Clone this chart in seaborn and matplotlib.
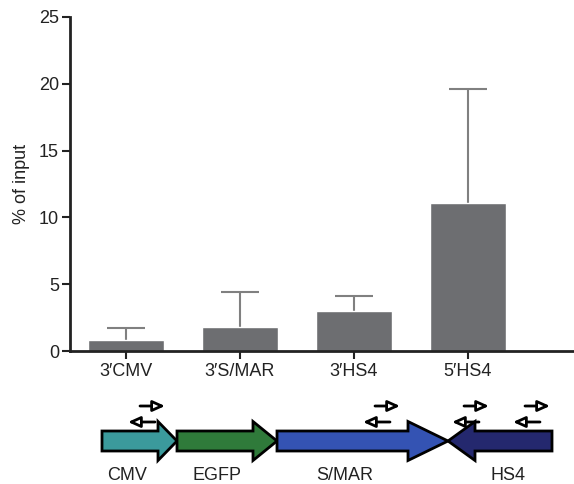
import numpy as np
import pandas as pd
import seaborn as sns
import matplotlib.pyplot as plt
from matplotlib.patches import Polygon

# bar chart data
categories = ["3\u2032CMV", "3\u2032S/MAR", "3\u2032HS4", "5\u2032HS4"]
means = [0.82, 1.8, 3.0, 11.05]
upper_err = [0.9, 2.6, 1.1, 8.55]
yticks = [0, 5, 10, 15, 20, 25]

# construct schematic (pixel spans): name, start, head base, tip, colour
elements = ["CMV", "EGFP", "S/MAR", "HS4"]
elem_start = [102, 177, 277, 552]
elem_head = [158, 253, 408, 475]
elem_tip = [177, 277, 448, 448]
elem_colors = ["#3b9a9c", "#2f7a3a", "#3453b3", "#24286e"]
label_x = [127, 217, 345, 508]
primer_x = [128, 363, 452, 513]

sns.set_theme(style="white")
plt.rcParams["font.family"] = ["Liberation Sans", "DejaVu Sans"]

fig = plt.figure(figsize=(5.74, 4.84), dpi=100)
ax = fig.add_axes([70 / 574, 1 - 351 / 484, 1 - 70 / 574, (351 - 17) / 484])

df = pd.DataFrame({"site": categories, "pct": means})
sns.barplot(data=df, x="site", y="pct", color="#6d6e71", saturation=1,
            width=0.667, errorbar=None, ax=ax, zorder=2)

# upper-only error bars with a single cap
xs = np.arange(len(means))
tops = np.array(means) + np.array(upper_err)
ax.vlines(xs, means, tops, color="#808080", lw=1.5, zorder=1)
ax.plot(xs, tops, ls="none", marker="_", ms=28, mew=1.5, color="#808080", zorder=1)

ax.set_ylim(0, 25)
ax.set_xlim(-0.49, 3.93)
ax.set_yticks(yticks)
ax.set_xlabel("")
ax.set_ylabel("% of input", fontsize=13, color="#222222", labelpad=6)
ax.tick_params(axis="both", length=6, width=1.5, color="#222222",
               labelsize=13, labelcolor="#222222", bottom=True, left=True)
ax.tick_params(axis="x", pad=3)
ax.tick_params(axis="y", pad=2)
for side in ["top", "right"]:
    ax.spines[side].set_visible(False)
for side in ["left", "bottom"]:
    ax.spines[side].set_linewidth(2)
    ax.spines[side].set_color("#222222")

# schematic underneath
ax2 = fig.add_axes([0, 0, 1, 1])
ax2.set_xlim(0, 574)
ax2.set_ylim(484, 0)
ax2.axis("off")

yc, body, head = 441, 10, 19.5
for start, hb, tip, col in zip(elem_start, elem_head, elem_tip, elem_colors):
    pts = [(start, yc - body), (hb, yc - body), (hb, yc - head), (tip, yc),
           (hb, yc + head), (hb, yc + body), (start, yc + body)]
    ax2.add_patch(Polygon(pts, closed=True, fc=col, ec="black", lw=2, joinstyle="miter"))

for name, lx in zip(elements, label_x):
    ax2.text(lx, 475, name, ha="center", va="center", fontsize=13, color="#222222")

for px in primer_x:
    fwd = dict(arrowstyle="-|>,head_length=0.6,head_width=0.27", fc="white",
               ec="black", lw=2.0, shrinkA=0, shrinkB=0)
    ax2.annotate("", xy=(px + 37, 406), xytext=(px + 12, 406), arrowprops=fwd)
    ax2.annotate("", xy=(px, 422), xytext=(px + 27, 422), arrowprops=fwd)

fig.savefig("out.png", dpi=100)
